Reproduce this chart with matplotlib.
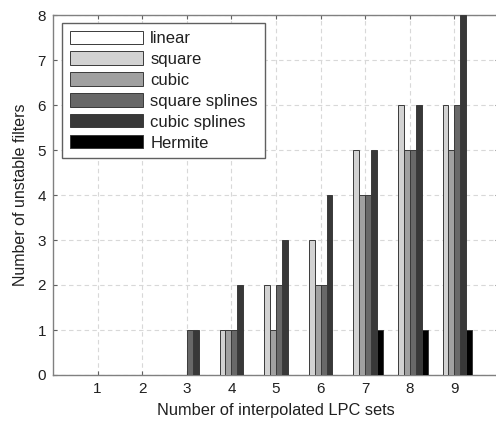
import numpy as np
import matplotlib.pyplot as plt

# number of interpolated LPC sets
n_sets = [1, 2, 3, 4, 5, 6, 7, 8, 9]
methods = ["linear", "square", "cubic", "square splines", "cubic splines", "Hermite"]

# number of unstable filters per method
linear = [0, 0, 0, 0, 0, 0, 0, 0, 0]
square = [0, 0, 0, 1, 2, 3, 5, 6, 6]
cubic = [0, 0, 0, 1, 1, 2, 4, 5, 5]
square_splines = [0, 0, 1, 1, 2, 2, 4, 5, 6]
cubic_splines = [0, 0, 1, 2, 3, 4, 5, 6, 8]
hermite = [0, 0, 0, 0, 0, 0, 1, 1, 1]

series = [linear, square, cubic, square_splines, cubic_splines, hermite]
colors = ["#ffffff", "#d2d2d2", "#a0a0a0", "#686868", "#383838", "#000000"]

plt.rcParams["font.family"] = ["Liberation Sans", "DejaVu Sans"]

fig = plt.figure(figsize=(4.96, 4.23), dpi=100)
ax = fig.add_axes([53 / 496, 1 - 375 / 423, 446 / 496, 360 / 423])

x = np.array(n_sets, dtype=float)
group_w = 0.8
bar_w = group_w / len(series)
for i, (vals, col, lab) in enumerate(zip(series, colors, methods)):
    offs = -group_w / 2 + bar_w * (i + 0.5)
    ax.bar(x + offs, vals, width=bar_w, color=col, edgecolor="#3a3a3a",
           linewidth=0.7, label=lab, zorder=3)

ax.set_xlim(0, 10)
ax.set_ylim(0, 8)
ax.set_xticks(n_sets)
ax.set_yticks(range(0, 9))
ax.tick_params(direction="in", top=True, right=True, labelsize=11,
               length=3, color="#606060", labelcolor="#202020", pad=5)
ax.grid(True, linestyle=(0, (4, 3)), color="#d8d8d8", linewidth=0.8, zorder=0)
ax.set_axisbelow(True)
for sp in ax.spines.values():
    sp.set_color("#808080")
    sp.set_linewidth(1.0)

ax.set_xlabel("Number of interpolated LPC sets", fontsize=11.8, color="#202020", labelpad=5)
ax.set_ylabel("Number of unstable filters", fontsize=11.5, color="#202020", labelpad=7)

leg = ax.legend(loc="upper left", bbox_to_anchor=(9 / 446, 1 - 8 / 360),
                borderaxespad=0, fancybox=False, fontsize=12,
                handlelength=4.4, handleheight=0.85, handletextpad=0.45,
                labelspacing=0.33, borderpad=0.45, framealpha=1)
leg.get_frame().set_edgecolor("#606060")
leg.get_frame().set_linewidth(1.0)
for t in leg.get_texts():
    t.set_color("#202020")

fig.savefig("out.png", dpi=100)
